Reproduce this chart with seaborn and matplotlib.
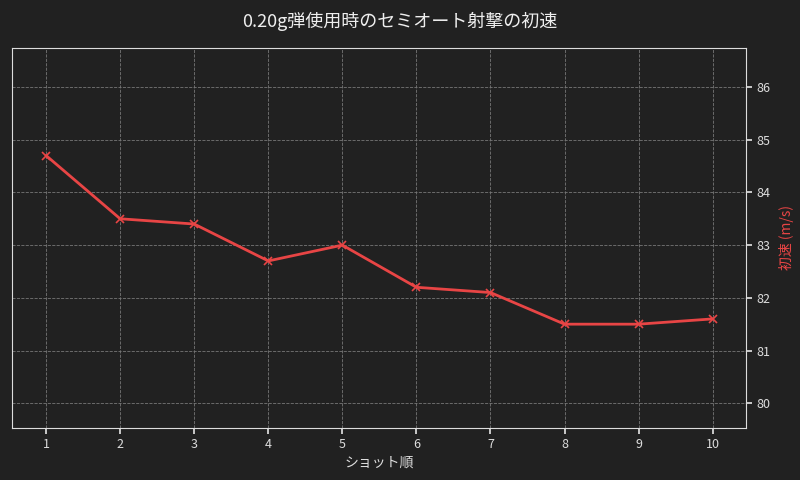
import matplotlib
matplotlib.use("Agg")
import matplotlib.pyplot as plt
import seaborn as sns
import pandas as pd

shots = [1, 2, 3, 4, 5, 6, 7, 8, 9, 10]
velocity = [84.7, 83.5, 83.4, 82.7, 83.0, 82.2, 82.1, 81.5, 81.5, 81.6]
title = "0.20g弾使用時のセミオート射撃の初速"
xlabel = "ショット順"
ylabel = "初速 (m/s)"

sns.set_theme(style="dark")
plt.rcParams['font.family'] = ['Noto Sans CJK JP', 'DejaVu Sans']
bg = "#212121"
red = "#e84545"
df = pd.DataFrame({"shot": shots, "v": velocity})

fig = plt.figure(figsize=(8, 4.8), dpi=100, facecolor=bg)
ax = fig.add_axes([12/800, 1-428/480, (746-12)/800, (428-48)/480])
ax.set_facecolor(bg)
sns.lineplot(data=df, x="shot", y="v", ax=ax, color=red, marker="x",
             markersize=6, markeredgecolor=red, markeredgewidth=1.2, linewidth=2)
ax.set_xlim(0.54, 10.45)
ax.set_ylim(79.53, 86.74)
ax.set_xticks(shots)
ax.set_yticks([80, 81, 82, 83, 84, 85, 86])
ax.yaxis.tick_right()
ax.yaxis.set_label_position("right")
ax.grid(True, color="#777777", linestyle="--", linewidth=0.6)
for s in ax.spines.values():
    s.set_color("#dddddd"); s.set_linewidth(0.8)
ax.tick_params(colors="#dddddd", labelsize=9, length=4, left=False, right=True, bottom=True)
for l in ax.get_xticklabels() + ax.get_yticklabels():
    l.set_color("#dddddd")
ax.set_xlabel(xlabel, color="#dddddd", fontsize=10, labelpad=3)
ax.set_ylabel(ylabel, color=red, fontsize=10, labelpad=6)
fig.suptitle(title, color="#eeeeee", fontsize=13, y=0.975)
fig.savefig("out.png", facecolor=bg)
